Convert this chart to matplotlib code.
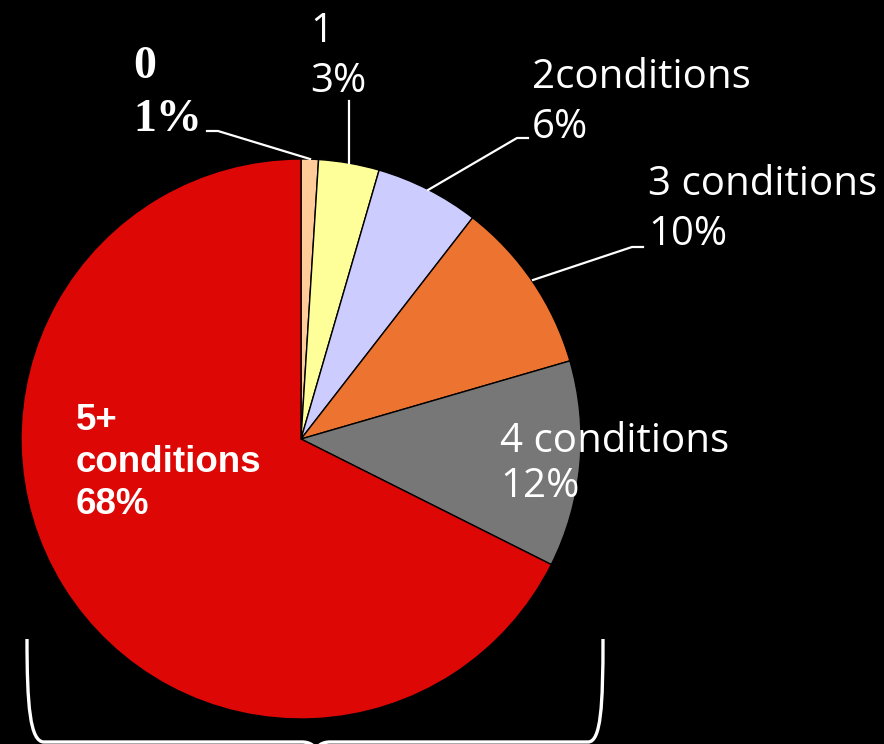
import numpy as np
import matplotlib.pyplot as plt
from matplotlib.path import Path
from matplotlib.patches import PathPatch

# share of people by number of chronic conditions (clockwise from top)
groups = ['0', '1', '2conditions', '3 conditions', '4 conditions', '5+ conditions']
shares = [1.0, 3.5, 6.0, 10.0, 11.9, 67.6]
pct_labels = ['1%', '3%', '6%', '10%', '12%', '68%']
colors = ['#FFCC99', '#FFFF99', '#CCCCFF', '#ED7430', '#777777', '#DD0806']

fig = plt.figure(figsize=(8.84, 7.44), dpi=100, facecolor='black')
ax = fig.add_axes([0, 0, 1, 1])
ax.set_facecolor('black')

# pixel-like coords, y pointing down -> counterclock in data = clockwise on screen
ax.pie(shares, colors=colors, startangle=-90, counterclock=True,
       center=(301, 439), radius=280,
       wedgeprops=dict(edgecolor='black', linewidth=1.0))
ax.set_xlim(0, 884)
ax.set_ylim(744, 0)
ax.set_aspect('equal')
ax.axis('off')

sans = 'Open Sans'
fs = 29
# label "0" - bold serif
ax.text(133, 78, groups[0], fontsize=33, fontweight='bold', family='Liberation Serif',
        color='white', va='baseline')
ax.text(133, 131, pct_labels[0], fontsize=33, fontweight='bold', family='Liberation Serif',
        color='white', va='baseline')
ax.plot([207, 218, 310], [131, 131, 159], color='white', lw=1.6)

# label "1"
ax.text(310, 42, groups[1], fontsize=fs, family=sans, color='white', va='baseline')
ax.text(310, 92, pct_labels[1], fontsize=fs, family=sans, color='white', va='baseline')
ax.plot([349, 349], [101, 163], color='white', lw=1.6)

# label "2conditions"
ax.text(532, 88, groups[2], fontsize=fs, family=sans, color='white', va='baseline')
ax.text(532, 138, pct_labels[2], fontsize=fs, family=sans, color='white', va='baseline')
ax.plot([528, 517, 428], [138, 138, 190], color='white', lw=1.6)

# label "3 conditions"
ax.text(648, 195, groups[3], fontsize=fs, family=sans, color='white', va='baseline')
ax.text(648, 245, pct_labels[3], fontsize=fs, family=sans, color='white', va='baseline')
ax.plot([643, 632, 533], [247, 247, 280], color='white', lw=1.6)

# label "4 conditions" (inside/over the slice)
ax.text(500, 452, groups[4], fontsize=fs, family=sans, color='white', va='baseline')
ax.text(500, 497, pct_labels[4], fontsize=fs, family=sans, color='white', va='baseline')

# label "5+ conditions" - bold arial-like
for txt, yb in zip(['5+', 'conditions', pct_labels[5]], [430, 472, 514]):
    ax.text(76, yb, txt, fontsize=26.5, fontweight='bold', family='Liberation Sans',
            color='white', va='baseline')

# curly brace under the pie
verts = [(27, 639), (27, 705), (30, 742), (44, 742),
         (302, 742),
         (310, 742), (316, 746), (316, 752),
         (316, 746), (322, 742), (330, 742),
         (588, 742),
         (601, 742), (603, 705), (603, 639)]
codes = [Path.MOVETO, Path.CURVE4, Path.CURVE4, Path.CURVE4,
         Path.LINETO,
         Path.CURVE4, Path.CURVE4, Path.CURVE4,
         Path.CURVE4, Path.CURVE4, Path.CURVE4,
         Path.LINETO,
         Path.CURVE4, Path.CURVE4, Path.CURVE4]
ax.add_patch(PathPatch(Path(verts, codes), facecolor='none', edgecolor='white', lw=2.4))

fig.savefig('out.png', dpi=100, facecolor='black')
